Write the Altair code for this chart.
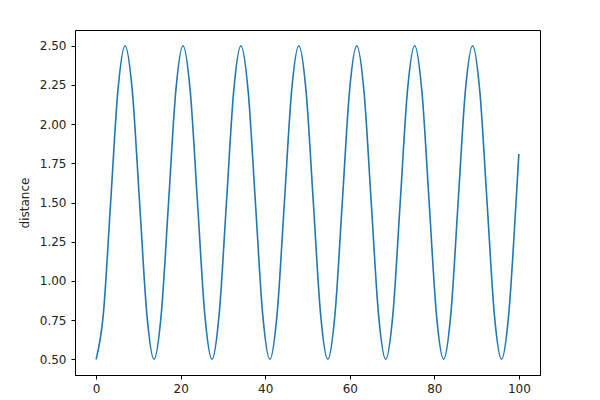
import altair as alt
import pandas as pd

# x positions (8 samples per cycle, period ~13.7)
xs = [0, 1.71, 3.43, 5.14, 6.85, 8.56, 10.28, 11.99, 13.70, 15.41, 17.13, 18.84,
      20.55, 22.26, 23.98, 25.69, 27.40, 29.11, 30.83, 32.54, 34.25, 35.96, 37.68,
      39.39, 41.10, 42.81, 44.53, 46.24, 47.95, 49.66, 51.38, 53.09, 54.80, 56.51,
      58.23, 59.94, 61.65, 63.36, 65.08, 66.79, 68.50, 70.21, 71.93, 73.64, 75.35,
      77.06, 78.78, 80.49, 82.20, 83.91, 85.63, 87.34, 89.05, 90.76, 92.48, 94.19,
      95.90, 97.61, 99.33, 100]
distance = [0.5, 0.79, 1.5, 2.21, 2.5, 2.21, 1.5, 0.79,
            0.5, 0.79, 1.5, 2.21, 2.5, 2.21, 1.5, 0.79,
            0.5, 0.79, 1.5, 2.21, 2.5, 2.21, 1.5, 0.79,
            0.5, 0.79, 1.5, 2.21, 2.5, 2.21, 1.5, 0.79,
            0.5, 0.79, 1.5, 2.21, 2.5, 2.21, 1.5, 0.79,
            0.5, 0.79, 1.5, 2.21, 2.5, 2.21, 1.5, 0.79,
            0.5, 0.79, 1.5, 2.21, 2.5, 2.21, 1.5, 0.79,
            0.5, 0.79, 1.5, 1.81]

x_ticks = [0, 20, 40, 60, 80, 100]
y_ticks = [0.5, 0.75, 1.0, 1.25, 1.5, 1.75, 2.0, 2.25, 2.5]

df = pd.DataFrame({"x": xs, "distance": distance})

font = "DejaVu Sans"
chart = alt.Chart(df).mark_line(
    color="#1f77b4", strokeWidth=1.6, interpolate="monotone", clip=True
).encode(
    x=alt.X("x:Q", scale=alt.Scale(domain=[-5, 105], nice=False, zero=False),
            axis=alt.Axis(values=x_ticks, title=None, grid=False, format="d",
                          labelFont=font, labelFontSize=12, labelColor="#222222",
                          tickColor="black", domainColor="black", tickSize=4,
                          labelPadding=4)),
    y=alt.Y("distance:Q", scale=alt.Scale(domain=[0.4, 2.6], nice=False, zero=False),
            axis=alt.Axis(values=y_ticks, title="distance", grid=False, format=".2f",
                          labelFont=font, labelFontSize=12, labelColor="#222222",
                          titleFont=font, titleFontSize=12, titleFontWeight="normal",
                          titleColor="#222222", titlePadding=8,
                          tickColor="black", domainColor="black", tickSize=4,
                          labelPadding=5)),
).properties(
    width=465, height=345,
    background="white",
    autosize=alt.AutoSizeParams(type="none"),
    padding={"left": 67, "top": 22, "right": 40, "bottom": 20},
).configure_view(
    stroke="black", strokeWidth=1
)

chart.save("out.html", embed_options={"renderer": "svg", "actions": False})
